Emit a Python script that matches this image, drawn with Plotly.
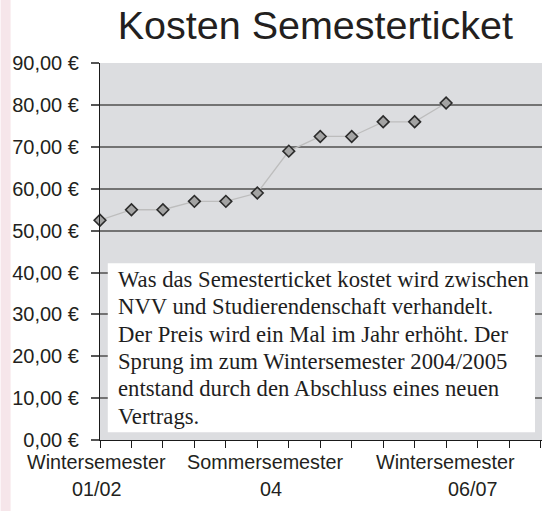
import plotly.graph_objects as go

# ---- data ----
semesters = ["WS 01/02", "SS 02", "WS 02/03", "SS 03", "WS 03/04", "SS 04",
             "WS 04/05", "SS 05", "WS 05/06", "SS 06", "WS 06/07", "SS 07"]
prices = [52.5, 55.0, 55.0, 57.0, 57.0, 59.0, 69.0, 72.5, 72.5, 76.0, 76.0, 80.5]
y_tick_values = [0, 10, 20, 30, 40, 50, 60, 70, 80, 90]
y_tick_labels = ["0,00 €", "10,00 €", "20,00 €", "30,00 €", "40,00 €",
                 "50,00 €", "60,00 €", "70,00 €", "80,00 €", "90,00 €"]
x_label_top = ["Wintersemester", "Sommersemester", "Wintersemester"]
x_label_bottom = ["01/02", "04", "06/07"]
title_text = "Kosten Semesterticket"
note_lines = ["Was das Semesterticket kostet wird zwischen",
              "NVV und Studierendenschaft verhandelt.",
              "Der Preis wird ein Mal im Jahr erhöht. Der",
              "Sprung im zum Wintersemester 2004/2005",
              "entstand durch den Abschluss eines neuen",
              "Vertrags."]

x_idx = list(range(len(semesters)))

W, H = 542, 511
ML, MR, MT, MB = 99.5, 0, 63.3, 71
plot_w = W - ML - MR
plot_h = H - MT - MB
BOTTOM = H - MB
step_px = 31.5
x_max = plot_w / step_px


def py(ypx):
    """pixel row -> paper y"""
    return (BOTTOM - ypx) / plot_h


def px(xpx):
    """pixel column -> paper x"""
    return (xpx - ML) / plot_w


def xdata_to_paper(v):
    return v / x_max


SANS = "Liberation Sans, Arial, sans-serif"
SERIF = "Liberation Serif, Times New Roman, serif"
TXT = "#231f20"

fig = go.Figure()
fig.add_trace(go.Scatter(
    x=x_idx, y=prices, mode="lines+markers",
    line=dict(color="#bdbdbd", width=1.3),
    marker=dict(symbol="diamond", size=9, color="#a3a3a3",
                line=dict(color="#2b2b2b", width=1.6)),
    cliponaxis=False, hoverinfo="x+y", showlegend=False,
))

annotations = []
top_pos = [-0.1, 5.24, 10.99]
bot_pos = [-0.09, 5.44, 11.87]
for t, xp in zip(x_label_top, top_pos):
    annotations.append(dict(x=xdata_to_paper(xp), xref="paper", y=py(461.5), yref="paper",
                            text=t, showarrow=False, xanchor="center", yanchor="middle",
                            font=dict(family=SANS, size=19.8, color=TXT)))
for t, xp in zip(x_label_bottom, bot_pos):
    annotations.append(dict(x=xdata_to_paper(xp), xref="paper", y=py(489), yref="paper",
                            text=t, showarrow=False, xanchor="center", yanchor="middle",
                            font=dict(family=SANS, size=19.8, color=TXT)))

for i, line in enumerate(note_lines):
    annotations.append(dict(
        x=px(115.5), xref="paper", y=py(279.3 + i * 27.4), yref="paper",
        text=line, showarrow=False, xanchor="left", yanchor="middle",
        align="left", font=dict(family=SERIF, size=22.7, color="#1e1e1e"),
    ))

shapes = [
    dict(type="rect", xref="paper", yref="paper",
         x0=px(0), x1=px(10), y0=py(H), y1=py(0),
         fillcolor="#f6e6ea", line=dict(width=0), layer="below"),
    dict(type="rect", xref="paper", yref="paper",
         x0=px(107.3), x1=px(535), y0=py(432.3), y1=py(263.3),
         fillcolor="white", line=dict(width=0), layer="above"),
]

fig.update_layout(
    width=W, height=H,
    margin=dict(l=ML, r=MR, t=MT, b=MB, pad=0),
    paper_bgcolor="white", plot_bgcolor="#dcdde0",
    title=dict(text=title_text, x=315.3 / W, xanchor="center", xref="container",
               y=1 - 25 / H, yanchor="middle", yref="container",
               font=dict(family=SANS, size=39.5, color=TXT)),
    xaxis=dict(range=[0, x_max], tickmode="array", tickvals=list(range(0, 15)),
               showticklabels=False, ticks="outside", ticklen=7, tickwidth=1,
               tickcolor="#1a1a1a", showline=True, linecolor="#1a1a1a", linewidth=1.2,
               showgrid=False, zeroline=False, fixedrange=True),
    yaxis=dict(range=[0, 90.05], tickmode="array", tickvals=y_tick_values,
               ticktext=y_tick_labels, ticks="outside", ticklen=8, tickwidth=1.5,
               tickcolor="#555555", ticklabelstandoff=8,
               tickfont=dict(family=SANS, size=20, color=TXT),
               showline=True, linecolor="#1a1a1a", linewidth=1.2,
               showgrid=True, gridcolor="#737373", gridwidth=1.6,
               zeroline=False, fixedrange=True),
    annotations=annotations, shapes=shapes,
)

fig.write_html("out.html", config={"displayModeBar": False},
               post_script="document.body.style.margin='0';document.body.style.padding='0';")
